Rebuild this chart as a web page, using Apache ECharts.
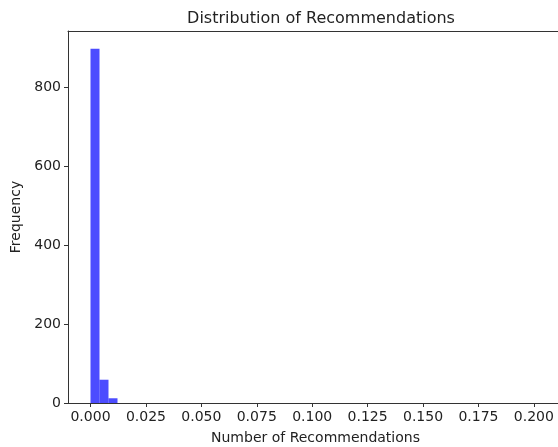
<!DOCTYPE html>
<html>
<head>
<meta charset="utf-8">
<script src="https://cdn.jsdelivr.net/npm/echarts@6/dist/echarts.min.js"></script>
<style>html,body{margin:0;padding:0;background:#fff;}#c{width:558px;height:447px;}</style>
</head>
<body>
<div id="c"></div>
<script>
// Histogram data
const binMin = 0;
const binMax = 0.203;
const binCount = 50;
const counts = [898, 59, 12, 0, 0, 0, 0, 0, 0, 0,
                0, 0, 0, 0, 0, 0, 0, 0, 0, 0,
                0, 0, 0, 0, 0, 0, 0, 0, 0, 0,
                0, 0, 0, 0, 0, 0, 0, 0, 0, 0,
                0, 0, 0, 0, 0, 0, 0, 0, 0, 0];
const xTicks = [0, 0.025, 0.05, 0.075, 0.1, 0.125, 0.15, 0.175, 0.2];
const yTicks = [0, 200, 400, 600, 800];
const titleText = 'Distribution of Recommendations';
const xName = 'Number of Recommendations';
const yName = 'Frequency';

const binWidth = (binMax - binMin) / binCount;
const histData = counts.map((c, i) => [binMin + i * binWidth, binMin + (i + 1) * binWidth, c]);
const margin = 0.05 * (binMax - binMin);
const yMax = Math.max(...counts) * 1.05;

const font = 'DejaVu Sans';
const txt = '#222';
const chart = echarts.init(document.getElementById('c'), null, {renderer: 'canvas'});
chart.setOption({
  animation: false,
  backgroundColor: '#fff',
  title: {
    text: titleText, left: 316, top: 6, textAlign: 'center',
    textStyle: {fontFamily: font, fontSize: 16, fontWeight: 'normal', color: txt}
  },
  grid: {left: 68, top: 31, bottom: 44, right: -5, outerBoundsMode: 'none'},
  xAxis: [{
    type: 'value', min: binMin - margin, max: binMax + margin,
    name: xName, nameLocation: 'middle', nameGap: 28,
    nameTextStyle: {fontFamily: font, fontSize: 14, color: txt},
    axisLine: {show: true, onZero: false, lineStyle: {color: '#333', width: 1}},
    axisTick: {show: true, length: 4, customValues: xTicks, lineStyle: {color: '#333'}},
    axisLabel: {customValues: xTicks, margin: 7, fontFamily: font, fontSize: 14, color: txt,
      formatter: v => v.toFixed(3)},
    splitLine: {show: false}
  }, {
    type: 'value', position: 'top', min: binMin - margin, max: binMax + margin,
    axisLine: {show: true, onZero: false, lineStyle: {color: '#333', width: 1}},
    axisTick: {show: false}, axisLabel: {show: false}, splitLine: {show: false}
  }],
  yAxis: {
    type: 'value', min: 0, max: yMax,
    name: yName, nameLocation: 'middle', nameGap: 43, nameRotate: 90,
    nameTextStyle: {fontFamily: font, fontSize: 14, color: txt},
    axisLine: {show: true, onZero: false, lineStyle: {color: '#333', width: 1}},
    axisTick: {show: true, length: 4, customValues: yTicks, lineStyle: {color: '#333'}},
    axisLabel: {customValues: yTicks, margin: 7, fontFamily: font, fontSize: 14, color: txt},
    splitLine: {show: false}
  },
  series: [{
    type: 'custom',
    xAxisIndex: 0,
    data: histData,
    encode: {x: [0, 1], y: 2},
    renderItem: function (params, api) {
      const p0 = api.coord([api.value(0), 0]);
      const p1 = api.coord([api.value(1), api.value(2)]);
      return {
        type: 'rect',
        shape: {x: p0[0], y: p1[1], width: p1[0] - p0[0], height: p0[1] - p1[1]},
        style: {fill: 'rgba(0,0,255,0.7)'}
      };
    }
  }]
});
</script>
</body>
</html>
